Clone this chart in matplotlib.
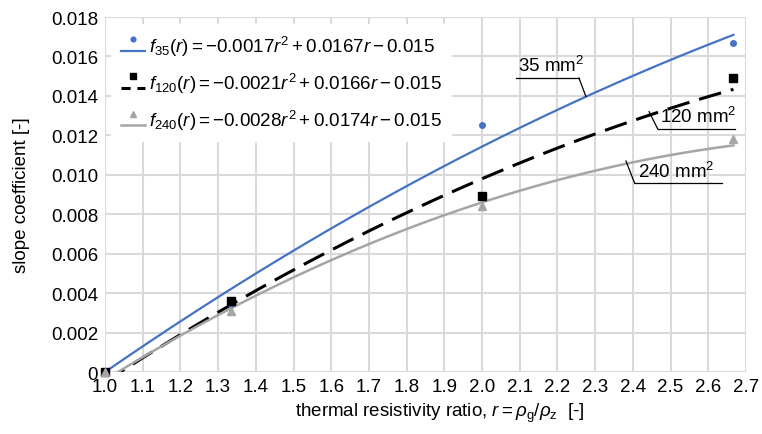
import numpy as np
import matplotlib
matplotlib.use("Agg")
import matplotlib.pyplot as plt
from matplotlib.lines import Line2D
from matplotlib.legend_handler import HandlerBase

plt.rcParams['font.family'] = ['Liberation Sans', 'DejaVu Sans']
plt.rcParams['mathtext.fontset'] = 'custom'
plt.rcParams['mathtext.rm'] = 'Liberation Sans'
plt.rcParams['mathtext.it'] = 'Liberation Sans:italic'
plt.rcParams['mathtext.sf'] = 'Liberation Sans'

# measured points
r_pts = [1.0, 1.3333, 2.0, 2.6667]
k35 = [0.0, 0.00345, 0.0125, 0.0167]
k120 = [0.0, 0.0036, 0.0089, 0.0149]
k240 = [0.0, 0.0031, 0.0084, 0.0118]

# trendline coefficients (a r^2 + b r + c), as drawn
c35 = [-0.00176, 0.01671, -0.01495]
c120 = [-0.0021, 0.0166, -0.015]
c240 = [-0.0028, 0.0174, -0.015]

labels = [r"$f_{35}(r) = -0.0017r^2 + 0.0167r - 0.015$",
          r"$f_{120}(r) = -0.0021r^2 + 0.0166r - 0.015$",
          r"$f_{240}(r) = -0.0028r^2 + 0.0174r - 0.015$"]

xticks = np.round(np.arange(1.0, 2.71, 0.1), 1)
yticks = np.arange(0, 0.0181, 0.002)

FS = 13.5
blue = '#4472c4'
gray = '#a5a5a5'


class HandlerMarkAbove(HandlerBase):
    # excel-like legend key: marker sits above the trendline sample
    def create_artists(self, legend, orig_handle, xdescent, ydescent,
                       width, height, fontsize, trans):
        mark, line = orig_handle
        yl = -ydescent + height * 0.05
        ym = -ydescent + height * 0.95
        l = Line2D([-xdescent, -xdescent + width], [yl, yl],
                   color=line.get_color(), lw=line.get_linewidth(),
                   linestyle=line.get_linestyle(), transform=trans)
        if line.get_linestyle() != '-':
            l.set_dashes((3.0, 2.2))
        m = Line2D([-xdescent + width / 2], [ym], marker=mark.get_marker(),
                   color=mark.get_color(), ms=mark.get_markersize() * 0.85,
                   ls='none', transform=trans)
        return [l, m]


fig = plt.figure(figsize=(7.62, 4.35), dpi=100)
ax = fig.add_axes([0.1378, 0.1425, 0.8412, 0.8161])

rr = np.linspace(1.0, 2.6667, 200)

l35, = ax.plot(rr, np.polyval(c35, rr), color=blue, lw=1.6)
l120, = ax.plot(rr, np.polyval(c120, rr), color='black', lw=2.2, dashes=(7.5, 3.3))
l240, = ax.plot(rr, np.polyval(c240, rr), color=gray, lw=1.8)

m35, = ax.plot(r_pts, k35, 'o', color=blue, ms=4, ls='none', clip_on=False)
m120, = ax.plot(r_pts, k120, 's', color='black', ms=5.5, ls='none', clip_on=False)
m240, = ax.plot(r_pts, k240, '^', color=gray, ms=5.5, ls='none', clip_on=False)

ax.set_xlim(1.0, 2.7)
ax.set_ylim(0, 0.018)
ax.set_xticks(xticks)
ax.set_xticklabels([f"{v:.1f}" for v in xticks])
ax.set_yticks(yticks)
ax.set_yticklabels(['0'] + [f"{v:.3f}" for v in yticks[1:]])
ax.tick_params(length=0, labelsize=FS)
ax.tick_params(axis='x', pad=4.5)
ax.tick_params(axis='y', pad=5)
ax.grid(True, color='#d9d9d9', lw=1.5)
ax.set_axisbelow(True)
for s in ax.spines.values():
    s.set_visible(False)

ax.set_ylabel("slope coefficient [-]", fontsize=FS)
ax.yaxis.set_label_coords(-0.117, 0.5)
ax.set_xlabel(r"thermal resistivity ratio, $r = \rho_{\mathrm{g}}/\rho_{\mathrm{z}}$  [-]", fontsize=FS)
ax.xaxis.set_label_coords(0.523, -0.08)

leg = ax.legend([(m35, l35), (m120, l120), (m240, l240)], labels,
                handler_map={tuple: HandlerMarkAbove()},
                loc='upper left', bbox_to_anchor=(0.01, 0.98), fontsize=FS,
                frameon=True, fancybox=False, edgecolor='white', framealpha=1,
                handlelength=1.3, handletextpad=0.2, labelspacing=0.7,
                borderaxespad=0.0, borderpad=0.5)

# callouts: underline + leader to the curve
kw = dict(color='black', lw=0.9, clip_on=False)
ax.text(2.095, 0.01505, r"35 mm$^2$", fontsize=FS, ha='left', va='bottom')
ax.plot([2.090, 2.257], [0.0149, 0.0149], **kw)
ax.plot([2.257, 2.2755], [0.0149, 0.01397], **kw)

ax.text(2.472, 0.01247, r"120 mm$^2$", fontsize=FS, ha='left', va='bottom')
ax.plot([2.466, 2.671], [0.01232, 0.01232], **kw)
ax.plot([2.466, 2.443], [0.01232, 0.0132], **kw)

ax.text(2.413, 0.00971, r"240 mm$^2$", fontsize=FS, ha='left', va='bottom')
ax.plot([2.405, 2.636], [0.00956, 0.00956], **kw)
ax.plot([2.405, 2.3816], [0.00956, 0.0107], **kw)

fig.savefig("out.png", dpi=100)
